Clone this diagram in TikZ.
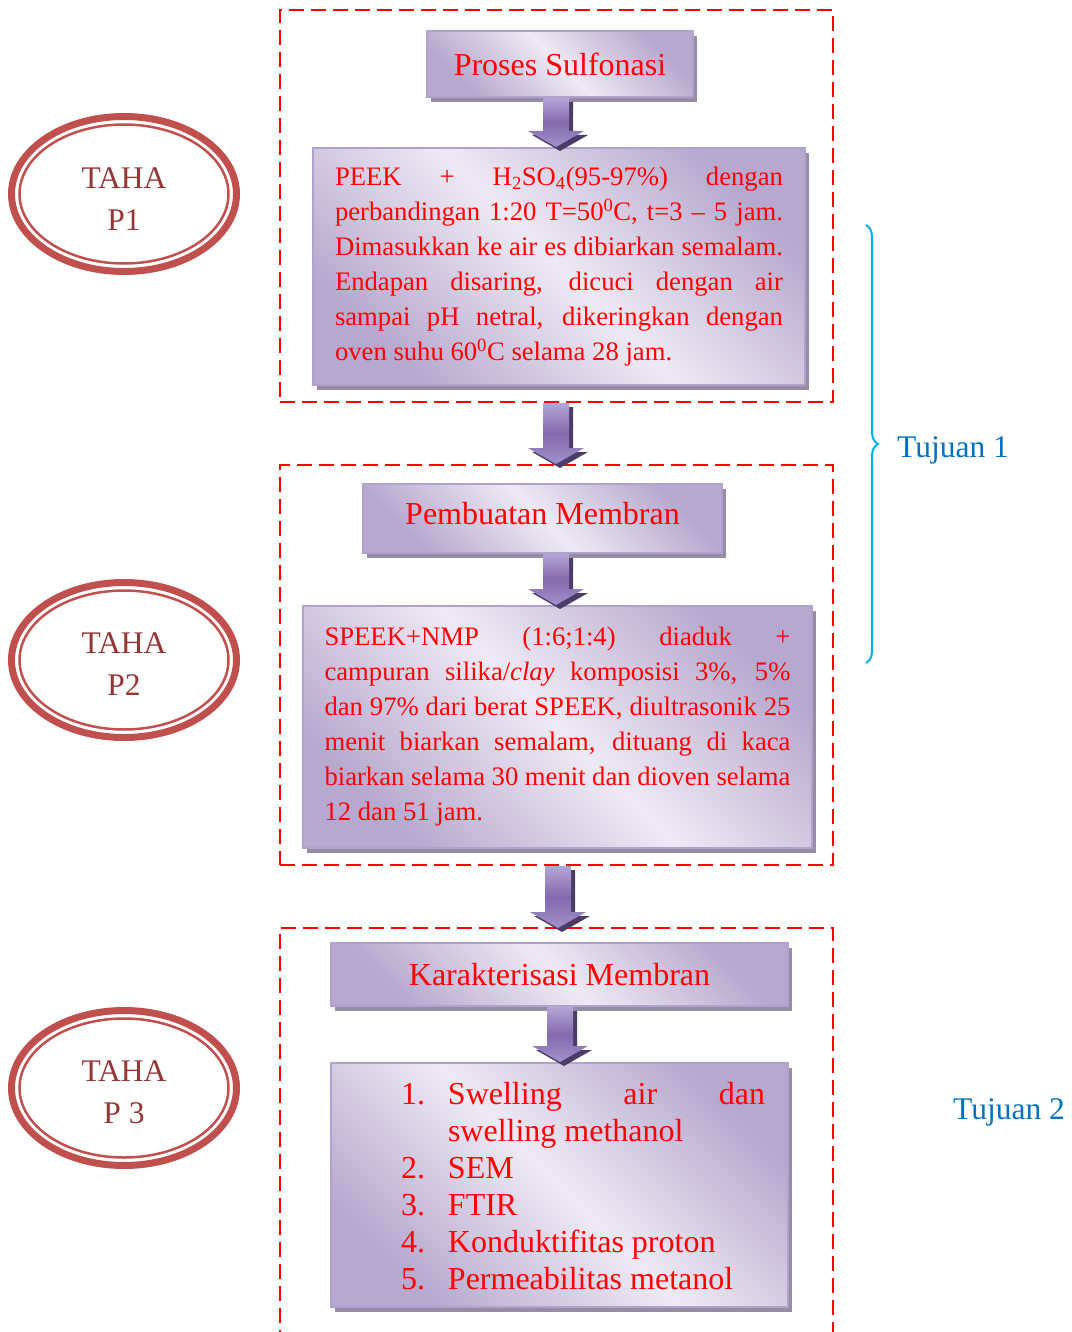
\documentclass[tikz,border=0pt]{standalone}
\usepackage{fontspec}
\setmainfont{Liberation Serif}
\usepackage{tikz}
\usetikzlibrary{calc,shapes.geometric,shadows,decorations.pathreplacing}

\definecolor{garis}{HTML}{B0A2CC}
\definecolor{ungu}{HTML}{B6A8CE}
\definecolor{ungumuda}{HTML}{EEEAF4}
\definecolor{bayang}{HTML}{958DA3}
\definecolor{panahatas}{HTML}{B3A5D6}
\definecolor{panahtengah}{HTML}{8469AE}
\definecolor{panahbawah}{HTML}{A192CA}
\definecolor{panahgelap}{HTML}{4A3C66}
\definecolor{merahtua}{HTML}{943634}
\definecolor{cincin}{HTML}{C0504D}
\definecolor{biru}{HTML}{0070C0}
\definecolor{sian}{HTML}{00B0F0}

\tikzset{
	kotak/.style={draw=garis, line width=2pt, top color=ungu, bottom color=ungu, middle color=ungumuda, shading angle=-45, drop shadow={shadow xshift=4pt, shadow yshift=-5pt, opacity=1, fill=bayang}, text=red, inner sep=0pt},
	judul/.style={kotak, font=\fontsize{32}{37}\selectfont},
	isi/.style={kotak, font=\fontsize{26.67}{35}\selectfont, align=justify},
	bingkai/.style={draw=red, line width=2pt, dash pattern=on 15pt off 7pt},
	taha/.style={ellipse, draw=cincin, line width=7pt, minimum width=225pt, minimum height=155pt, inner sep=2pt},
	tahateks/.style={text=merahtua, align=center, inner sep=0pt, font=\fontsize{31.5}{42}\selectfont},
	tujuan/.style={text=biru, font=\fontsize{31.5}{37}\selectfont, inner sep=0pt, anchor=west},
	kurung/.style={draw=sian, line width=2pt, decorate, decoration={brace, amplitude=12pt}},
	isipanah/.style={top color=panahatas, bottom color=panahbawah, middle color=panahtengah},
	bayangpanah/.style={fill=panahgelap},
}

\newcommand{\panah}[3]{%
	\path[bayangpanah] let \p1=(#1), \p2=(#2) in (#3pt-9pt,\y1-4pt) -- (#3pt+17pt,\y1-4pt) -- (#3pt+17pt,\y2+12pt) -- (#3pt+32pt,\y2+12pt) -- (#3pt+4pt,\y2-4pt) -- (#3pt-24pt,\y2+12pt) -- (#3pt-9pt,\y2+12pt) -- cycle;
	\path[isipanah] let \p1=(#1), \p2=(#2) in (#3pt-13pt,\y1) -- (#3pt+13pt,\y1) -- (#3pt+13pt,\y2+16pt) -- (#3pt+28pt,\y2+16pt) -- (#3pt,\y2) -- (#3pt-28pt,\y2+16pt) -- (#3pt-13pt,\y2+16pt) -- cycle;
}

\begin{document}
\begin{tikzpicture}[x=1pt,y=-1pt]
		\useasboundingbox (0,0) rectangle (1071,1332);
		
		\node[bingkai, minimum width=553pt, minimum height=392pt] (f1)at(556.5,206) {};
		\node[bingkai, minimum width=553pt, minimum height=400pt] (f2)at(556.5,665) {};
		\draw[bingkai] (280,1345) |- (833,928) -- (833,1345);
		\coordinate (f3)at(558,928);
		
		\node[judul, minimum width=266pt, minimum height=66pt] (ps)at(560,64) {Proses Sulfonasi};
		\node[isi, text width=448pt, inner xsep=22pt, minimum height=237pt] (peek)at(559,266.5) {PEEK + H\textsubscript{2}SO\textsubscript{4}(95-97\%) dengan\linebreak
			perbandingan 1:20 T=50\textsuperscript{0}C, t=3 -- 5 jam.\linebreak
			Dimasukkan ke air es dibiarkan semalam.\linebreak
			Endapan disaring, dicuci dengan air\linebreak
			sampai pH netral, dikeringkan dengan\linebreak
			oven suhu 60\textsuperscript{0}C selama 28 jam.};
		\node[judul, minimum width=359pt, minimum height=69pt, text depth=11pt] (pm)at(542.5,518.5) {Pembuatan Membran};
		\node[isi, text width=466pt, inner xsep=21.5pt, minimum height=242pt] (speek)at(557.5,727) {SPEEK+NMP (1:6;1:4) diaduk +\linebreak
			campuran silika/\textit{clay} komposisi 3\%, 5\%\linebreak
			dan 97\% dari berat SPEEK, diultrasonik 25\linebreak
			menit biarkan semalam, dituang di kaca\linebreak
			biarkan selama 30 menit dan dioven selama\linebreak
			12 dan 51 jam.};
		\node[judul, minimum width=457pt, minimum height=63pt] (km)at(559.5,974.5) {Karakterisasi Membran};
		\node[kotak, text width=457pt, minimum height=244pt, align=justify, font=\fontsize{32}{37}\selectfont] (uji)at(559.5,1185) {\hspace*{70pt}\begin{tabular}{@{}p{47pt}@{}p{317pt}@{}}
				1.\rule{0pt}{35pt} & \rightskip=0pt Swelling air dan\linebreak swelling methanol\\
				2. & SEM\\
				3. & FTIR\\
				4. & Konduktifitas proton\\
				5. & Permeabilitas metanol
			\end{tabular}};
		
		\panah{ps.south}{peek.north}{556}
		\panah{f1.south}{f2.north}{556}
		\panah{pm.south}{speek.north}{556}
		\panah{f2.south}{f3}{558}
		\panah{km.south}{uji.north}{560}
		
		\node[taha] (t1)at(124,194) {};
		\node[taha] (t2)at(124,660) {};
		\node[taha] (t3)at(124,1088) {};
		\foreach \t in {t1,t2,t3}
			\draw[cincin, line width=2.5pt] (\t.center) ellipse (104.5 and 69.5);
		\node[tahateks] (n1)at(124,199) {TAHA\\P1};
		\node[tahateks] (n2)at(124,664) {TAHA\\P2};
		\node[tahateks] (n3)at(124,1092) {TAHA\\P 3};
		
		\coordinate (k1)at(866,225);
		\coordinate (k2)at(866,663);
		\draw[kurung] (k1) -- (k2);
		\node[tujuan] (tj1)at(897,450) {Tujuan 1};
		\node[tujuan] (tj2)at(953,1112) {Tujuan 2};
	\end{tikzpicture}
\end{document}
